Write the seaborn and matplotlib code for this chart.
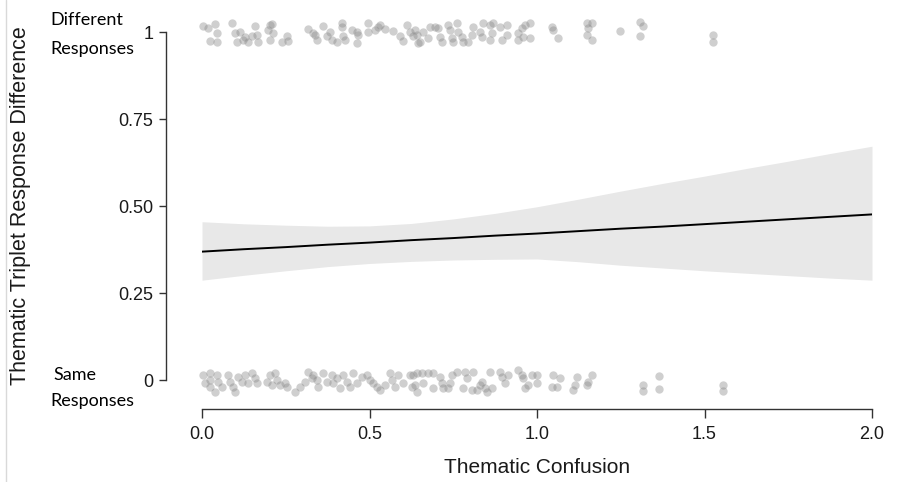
import matplotlib
matplotlib.use("Agg")
import matplotlib.pyplot as plt
from matplotlib.lines import Line2D
import seaborn as sns
import pandas as pd

# ---- data ----
# "Different Responses" (y = 1, jittered)
diff_x = [0.004, 0.019, 0.039, 0.044, 0.024, 0.044, 0.089, 0.099, 0.104, 0.113, 0.123, 0.128, 0.138, 0.148,
          0.163, 0.158, 0.168, 0.203, 0.208, 0.198, 0.213, 0.203, 0.238, 0.253, 0.258, 0.317, 0.337, 0.342,
          0.332, 0.362, 0.372, 0.382, 0.387, 0.402, 0.417, 0.417, 0.422, 0.427, 0.447, 0.462, 0.467, 0.462,
          0.496, 0.496, 0.516, 0.526, 0.531, 0.546, 0.571, 0.591, 0.601, 0.611, 0.621, 0.631, 0.646, 0.636,
          0.641, 0.650, 0.661, 0.676, 0.681, 0.696, 0.705, 0.710, 0.716, 0.735, 0.740, 0.745, 0.750, 0.760,
          0.765, 0.775, 0.780, 0.795, 0.805, 0.810, 0.830, 0.840, 0.835, 0.860, 0.865, 0.860, 0.870, 0.890,
          0.895, 0.910, 0.910, 0.944, 0.954, 0.964, 0.959, 0.944, 0.979, 0.979, 1.044, 1.049, 1.064, 1.148,
          1.163, 1.153, 1.148, 1.163, 1.248, 1.307, 1.317, 1.307, 1.526, 1.526]
diff_y = [1.017, 1.011, 1.023, 0.998, 0.975, 0.972, 1.025, 0.996, 0.972, 1.001, 0.977, 0.986, 0.972, 0.989,
          0.991, 1.017, 0.972, 1.020, 1.023, 1.006, 0.996, 0.977, 0.972, 0.989, 0.975, 1.008, 0.991, 0.977,
          0.996, 1.017, 0.989, 1.001, 0.977, 0.972, 1.025, 1.015, 0.989, 0.977, 1.006, 1.001, 0.991, 0.969,
          1.025, 1.001, 1.006, 1.015, 1.020, 1.008, 1.004, 0.989, 0.975, 1.020, 1.001, 0.989, 0.969, 1.006,
          0.991, 0.972, 1.001, 0.982, 1.015, 1.015, 1.011, 0.986, 0.972, 1.020, 1.006, 0.982, 0.972, 1.025,
          1.001, 0.986, 0.972, 0.972, 0.991, 1.015, 1.001, 1.025, 0.986, 1.020, 0.996, 0.977, 1.025, 1.015,
          0.977, 0.991, 1.020, 0.996, 1.011, 1.020, 0.986, 0.977, 1.025, 0.982, 1.015, 1.006, 0.982, 1.025,
          1.025, 1.011, 0.991, 0.977, 1.004, 1.030, 1.017, 0.989, 0.991, 0.972]

# "Same Responses" (y = 0, jittered)
same_x = [0.004, 0.009, 0.024, 0.024, 0.024, 0.039, 0.044, 0.049, 0.059, 0.079, 0.084, 0.093, 0.099, 0.108,
          0.119, 0.128, 0.138, 0.148, 0.158, 0.163, 0.193, 0.203, 0.208, 0.218, 0.223, 0.233, 0.248, 0.253,
          0.278, 0.293, 0.307, 0.317, 0.327, 0.332, 0.342, 0.347, 0.362, 0.372, 0.387, 0.392, 0.402, 0.412,
          0.422, 0.432, 0.442, 0.452, 0.462, 0.477, 0.492, 0.501, 0.511, 0.521, 0.531, 0.546, 0.561, 0.566,
          0.576, 0.586, 0.601, 0.621, 0.626, 0.641, 0.631, 0.636, 0.641, 0.656, 0.661, 0.676, 0.690, 0.690,
          0.710, 0.716, 0.720, 0.735, 0.740, 0.745, 0.760, 0.780, 0.785, 0.790, 0.805, 0.810, 0.820, 0.830,
          0.835, 0.845, 0.850, 0.860, 0.865, 0.890, 0.895, 0.904, 0.914, 0.944, 0.954, 0.959, 0.964, 0.974,
          0.984, 0.999, 0.999, 1.049, 1.044, 1.059, 1.069, 1.108, 1.113, 1.118, 1.148, 1.153, 1.163, 1.317,
          1.317, 1.365, 1.365, 1.556, 1.556]
same_y = [0.014, -0.009, 0.019, 0.000, -0.019, -0.034, 0.014, -0.005, -0.019, 0.014, -0.005, -0.019, -0.034,
          0.009, -0.005, 0.014, -0.009, 0.019, 0.005, -0.009, -0.005, 0.014, -0.014, 0.019, 0.000, -0.014,
          -0.009, -0.019, -0.034, -0.019, -0.005, 0.024, 0.005, 0.014, 0.000, -0.019, 0.019, -0.005, 0.014,
          -0.009, 0.005, -0.024, 0.014, -0.005, -0.019, 0.019, -0.009, 0.009, 0.014, 0.000, -0.009, -0.019,
          -0.029, -0.014, 0.019, 0.000, -0.019, 0.014, -0.009, 0.014, -0.019, 0.019, 0.014, -0.014, -0.034,
          0.019, -0.009, 0.019, 0.019, -0.024, 0.009, -0.009, -0.024, -0.024, -0.009, 0.014, 0.024, -0.024,
          0.024, 0.005, -0.029, 0.024, -0.029, -0.014, -0.005, -0.024, -0.034, 0.024, -0.024, 0.024, 0.009,
          -0.009, 0.014, 0.029, 0.014, 0.005, -0.024, -0.014, 0.014, 0.014, -0.009, 0.014, -0.019, -0.019,
          0.005, -0.029, -0.014, 0.009, -0.014, -0.005, 0.014, -0.014, -0.031, 0.011, -0.026, -0.014, -0.031]

# fitted logistic curve and its confidence band
fit_x = [0.0, 0.125, 0.25, 0.375, 0.5, 0.625, 0.75, 0.875, 1.0,
         1.125, 1.25, 1.375, 1.5, 1.625, 1.75, 1.875, 2.0]
fit_mean = [0.369, 0.376, 0.382, 0.389, 0.395, 0.402, 0.408, 0.415, 0.421,
            0.428, 0.435, 0.441, 0.448, 0.455, 0.462, 0.469, 0.476]
fit_lower = [0.287, 0.301, 0.314, 0.326, 0.335, 0.341, 0.345, 0.347, 0.348,
             0.340, 0.330, 0.322, 0.314, 0.307, 0.300, 0.293, 0.287]
fit_upper = [0.455, 0.449, 0.445, 0.442, 0.443, 0.450, 0.463, 0.479, 0.498,
             0.520, 0.543, 0.565, 0.586, 0.608, 0.629, 0.651, 0.672]

y_ticks = [0, 0.25, 0.5, 0.75, 1]
y_tick_labels = ["0", "0.25", "0.50", "0.75", "1"]
x_ticks = [0.0, 0.5, 1.0, 1.5, 2.0]
x_tick_labels = ["0.0", "0.5", "1.0", "1.5", "2.0"]

# ---- figure ----
sns.set_style("ticks")
plt.rcParams["font.family"] = ["Liberation Sans", "DejaVu Sans"]

W, H = 898, 482
fig = plt.figure(figsize=(W / 100, H / 100), dpi=100)
ax = fig.add_axes([202 / W, 0.179, 670 / W, 0.787])

points = pd.DataFrame({
    "x": diff_x + same_x,
    "y": diff_y + same_y,
})
fit = pd.DataFrame({"x": fit_x, "mean": fit_mean, "lo": fit_lower, "hi": fit_upper})

ax.fill_between(fit["x"], fit["lo"], fit["hi"], color="#e8e8e8", linewidth=0, zorder=1)
sns.lineplot(data=fit, x="x", y="mean", ax=ax, color="black", linewidth=1.4, zorder=3)
sns.scatterplot(data=points, x="x", y="y", ax=ax, color="#888888", alpha=0.4,
                s=36, linewidth=0, zorder=2)
for coll in ax.collections:
    coll.set_clip_on(False)

ax.set_xlim(0, 2)
ax.set_ylim(-0.045, 1.045)

ax.set_xticks(x_ticks)
ax.set_xticklabels(x_tick_labels)
ax.set_yticks(y_ticks)
ax.set_yticklabels(y_tick_labels)

for s in ["top", "right"]:
    ax.spines[s].set_visible(False)
ax.spines["left"].set_position(("outward", 26))
ax.spines["bottom"].set_position(("outward", 9.6))
ax.spines["left"].set_bounds(0, 1)
ax.spines["bottom"].set_bounds(0, 2)
for s in ["left", "bottom"]:
    ax.spines[s].set_color("#333333")
    ax.spines[s].set_linewidth(1.0)

ax.tick_params(axis="x", length=6.5, width=1.0, color="#333333", pad=6,
               labelsize=13, labelcolor="#1a1a1a")
ax.tick_params(axis="y", length=5, width=1.0, color="#333333", pad=4,
               labelsize=13, labelcolor="#1a1a1a")

ax.set_xlabel("Thematic Confusion", fontsize=15, color="#1a1a1a")
ax.xaxis.label.set_va("center")
ax.xaxis.set_label_coords(0.5, -0.188)
ax.set_ylabel("Thematic Triplet Response Difference", fontsize=15.5, color="#1a1a1a")
ax.yaxis.label.set_va("center")
ax.yaxis.set_label_coords((21 - 202) / 670, 0.5)

note_font = dict(fontsize=13, family=["Lato", "DejaVu Sans"], color="black",
                 ha="left", va="center")
fig.text(50 / W, 1 - 20 / H, "Different", **note_font)
fig.text(50 / W, 1 - 49 / H, "Responses", **note_font)
fig.text(53 / W, 1 - 375 / H, "Same", **note_font)
fig.text(50 / W, 1 - 401 / H, "Responses", **note_font)

fig.add_artist(Line2D([6 / W, 6 / W], [0, 1], transform=fig.transFigure,
                      color="#d9d9d9", linewidth=1))

fig.savefig("out.png", dpi=100)
